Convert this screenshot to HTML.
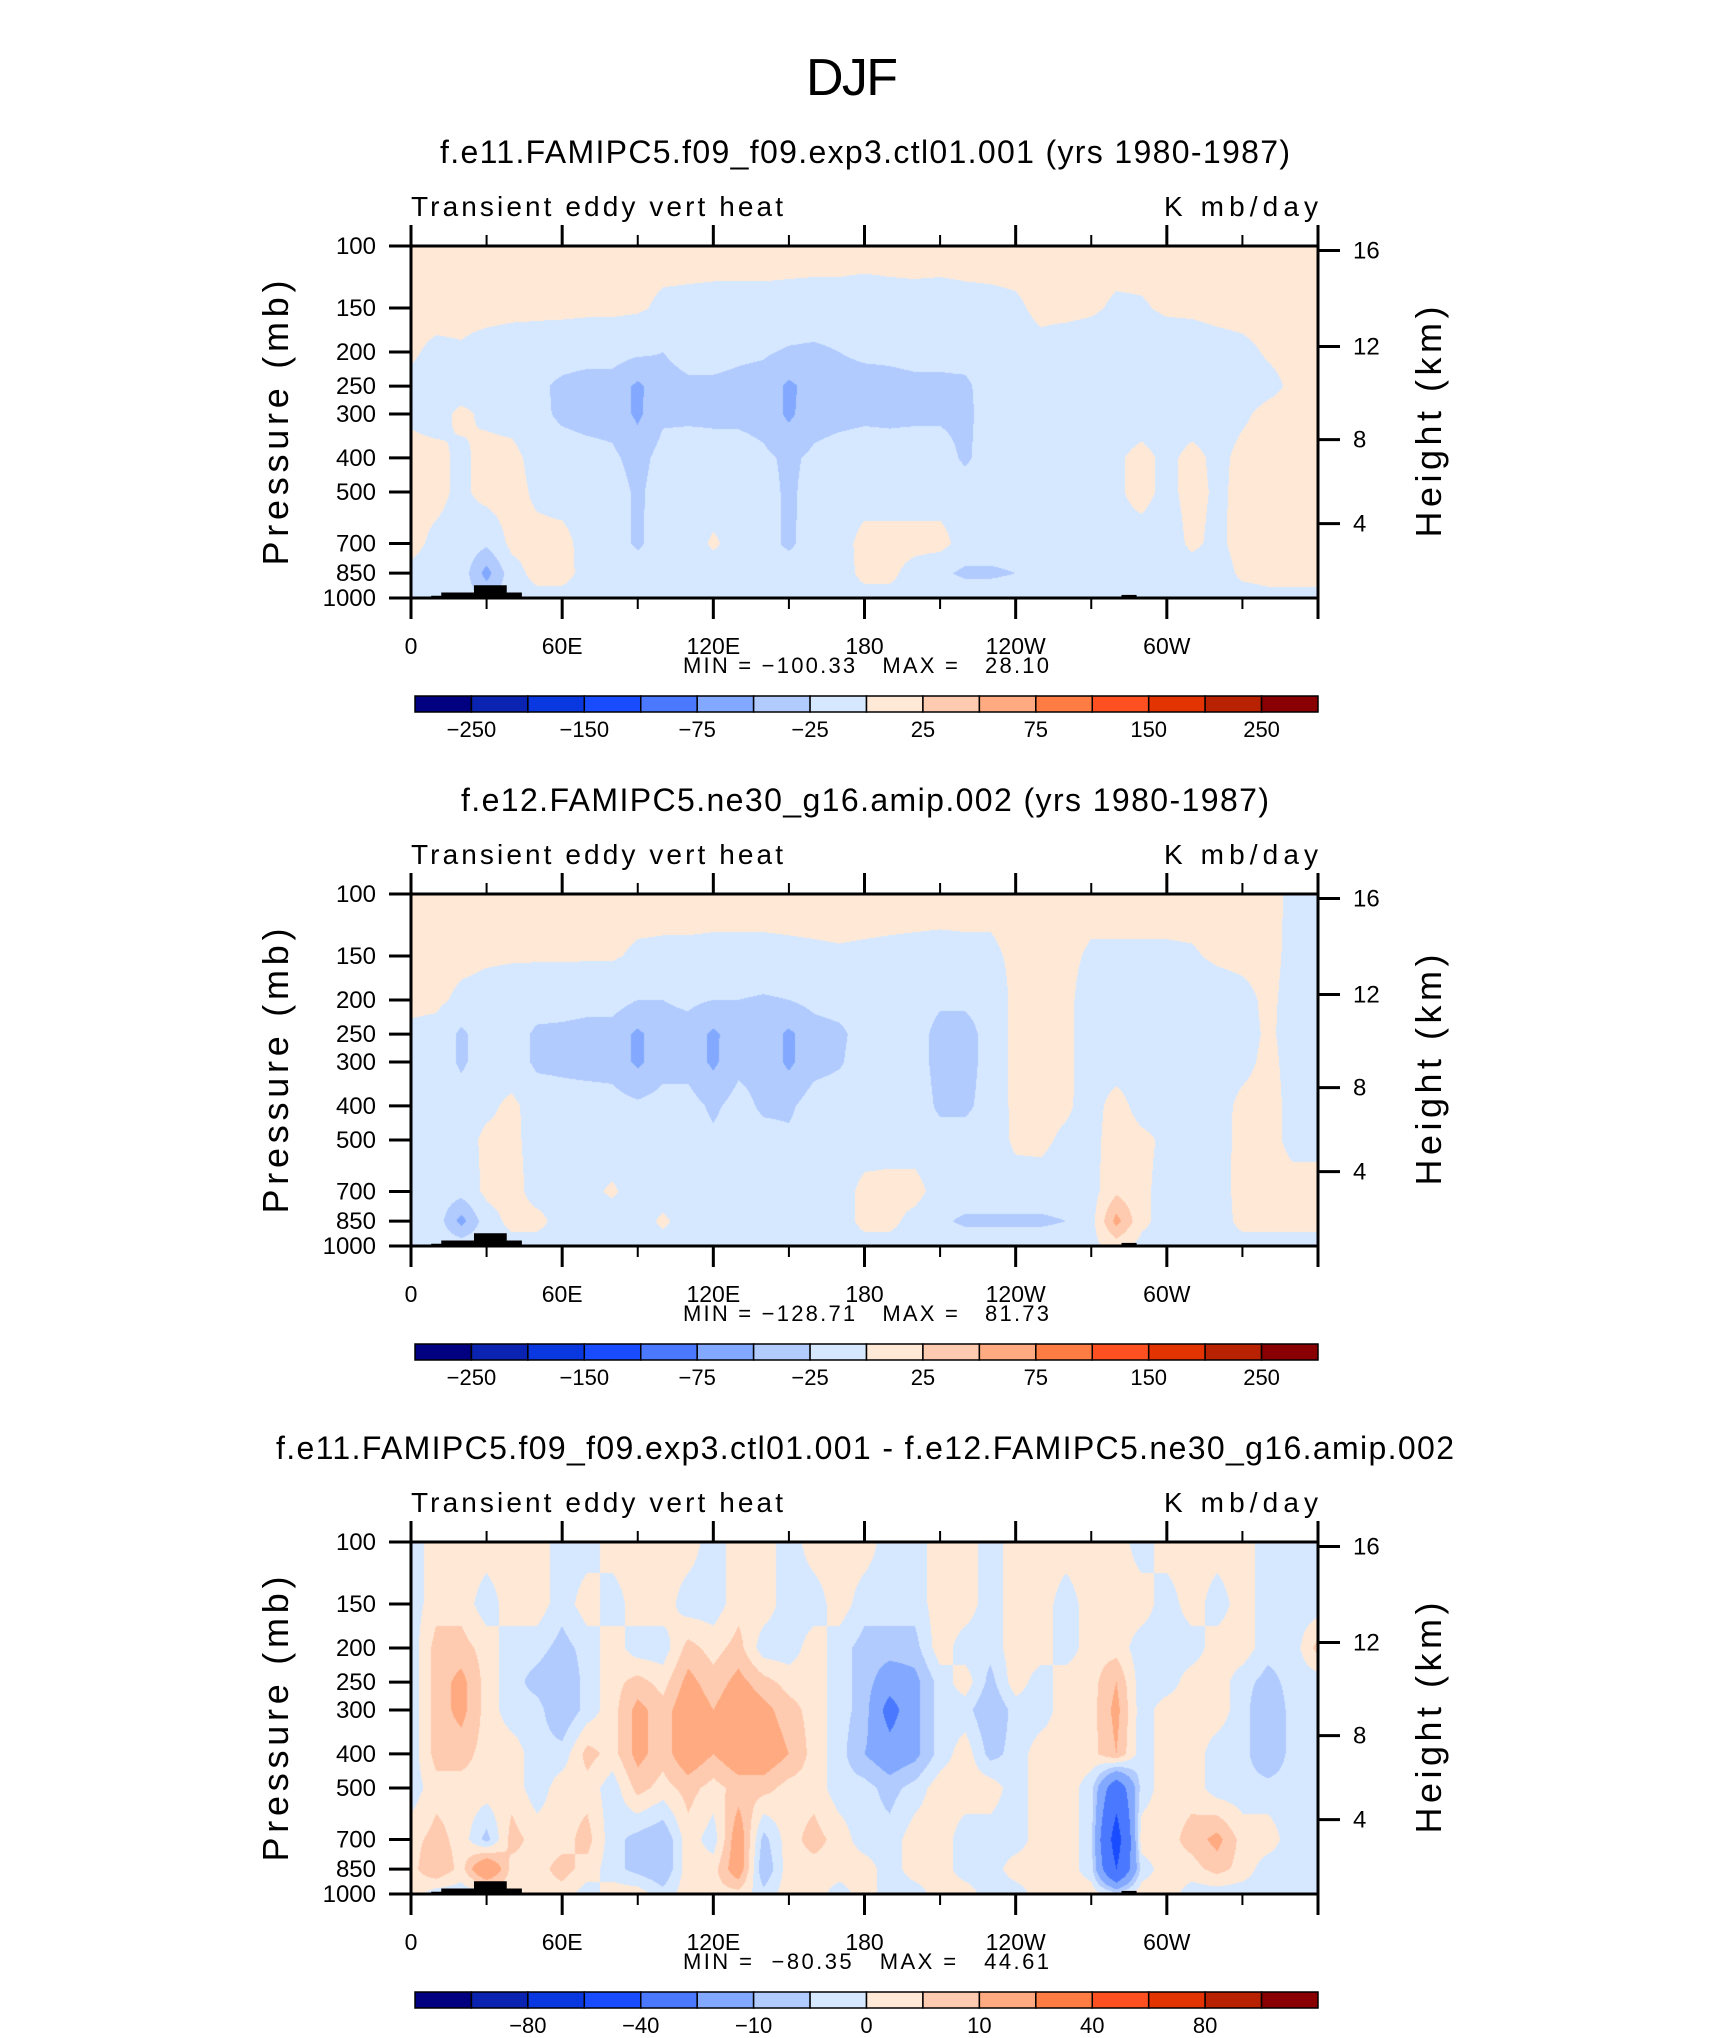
<!DOCTYPE html>
<html><head><meta charset="utf-8">
<style>
html,body{margin:0;padding:0;background:#fff;}
#root{position:relative;width:1710px;height:2038px;overflow:hidden;background:#fff;}
canvas{position:absolute;}
svg{position:absolute;left:0;top:0;}
text{font-family:"Liberation Sans",sans-serif;fill:#000;white-space:pre;}
</style></head>
<body>
<div id="root">
<canvas id="c0" width="907" height="352" style="left:411px;top:246px"></canvas>
<canvas id="c1" width="907" height="352" style="left:411px;top:894px"></canvas>
<canvas id="c2" width="907" height="352" style="left:411px;top:1542px"></canvas>
<svg id="ov" width="1710" height="2038">
<text x="852" y="95" font-size="52" text-anchor="middle" textLength="92">DJF</text>
</svg>
</div>
<script>
const lons = [0,10,20,30,40,50,60,70,80,90,100,110,120,130,140,150,160,170,180,190,200,210,220,230,240,250,260,270,280,290,300,310,320,330,340,350,360];
const plevs = [100,150,200,250,300,400,500,700,850,1000];
const levelsAbs = [-250,-200,-150,-100,-75,-50,-25,0,25,50,75,100,150,200,250];
const levelsDiff = [-100,-80,-60,-40,-20,-10,-5,0,5,10,20,40,60,80,100];
const cbarLabelsAbs = ["−250","","−150","","−75","","−25","","25","","75","","150","","250"];
const cbarLabelsDiff = ["","−80","","−40","","−10","","0","","10","","40","","80",""];
const colors = ["#000080","#0a23b0","#0a38e0","#1a4cff","#4a78ff","#82a9ff","#b1cbff","#d6e8ff","#ffe9d6","#ffcbb0","#ffaa80","#ff7c45","#ff5021","#e23300","#b82200","#880000"];
const titles = ["f.e11.FAMIPC5.f09_f09.exp3.ctl01.001 (yrs 1980-1987)","f.e12.FAMIPC5.ne30_g16.amip.002 (yrs 1980-1987)","f.e11.FAMIPC5.f09_f09.exp3.ctl01.001 - f.e12.FAMIPC5.ne30_g16.amip.002"];
const minmax = ["MIN = −100.33   MAX =   28.10","MIN = −128.71   MAX =   81.73","MIN =  −80.35   MAX =   44.61"];
const lonTicks = [0,60,120,180,240,300,360];
const lonTickLabels = ["0","60E","120E","180","120W","60W",""];
const pTicks = [100,150,200,250,300,400,500,700,850,1000];
const hTicks = [16,12,8,4];
const hTickP = [103,193,355,615];
const topoLon = [8,8,12,12,25,25,38,38,44,44];
const topoP = [1000,985,985,965,965,920,920,965,965,1000];

const field1 = [
[8,8,8,8,8,8,8,8,8,8,8,8,8,8,8,8,8,8,8,8,8,8,8,8,8,8,8,8,8,8,8,8,8,8,8,8,8],
[8,8,8,8,6,5,5,4,4,3,-4,-5,-6,-6,-6,-7,-8,-8,-10,-8,-7,-8,-6,-5,-3,4,5,3,-3,-2,3,4,6,7,8,8,8],
[3,-5,-3,-10,-12,-12,-14,-15,-15,-20,-25,-15,-15,-20,-22,-28,-30,-25,-20,-20,-18,-18,-15,-12,-8,-5,-10,-12,-12,-12,-12,-12,-8,-5,2,5,6],
[-5,-8,-12,-10,-10,-20,-30,-35,-35,-55,-35,-30,-30,-32,-35,-55,-40,-35,-35,-32,-30,-30,-30,-12,-12,-12,-12,-12,-12,-12,-12,-12,-12,-10,-5,3,6],
[-3,-8,5,-5,-10,-18,-30,-35,-35,-55,-30,-30,-30,-32,-35,-55,-35,-32,-30,-30,-30,-30,-32,-12,-10,-10,-10,-10,-10,-10,-10,-10,-8,-3,5,6,6],
[6,6,-5,8,8,-10,-12,-15,-20,-35,-15,-12,-15,-12,-20,-30,-20,-15,-12,-15,-12,-12,-30,-10,-10,-10,-10,-10,-3,6,-5,6,-5,5,8,8,8],
[6,6,-5,8,10,-5,-10,-10,-12,-30,-12,-10,-10,-10,-15,-30,-15,-12,-10,-10,-10,-10,-10,-10,-10,-10,-10,-10,-3,6,-5,6,-3,4,8,8,8],
[6,-5,-8,-20,6,8,8,-10,-10,-30,-10,-10,3,-8,-15,-30,-12,-10,8,8,8,8,-10,-10,-10,-10,-10,-10,-5,-8,-10,4,-5,8,8,8,8],
[-5,-8,-10,-60,-10,8,8,-8,-8,-8,-10,-10,-10,-10,-10,-10,-12,-10,6,6,-10,-20,-30,-30,-25,-10,-10,-5,-10,-10,-10,-10,-10,4,6,6,6],
[-8,-8,-10,-30,-10,-8,-8,-8,-8,-8,-8,-8,-8,-8,-8,-8,-8,-8,-8,-8,-8,-8,-8,-8,-8,-8,-8,-8,-8,-8,-8,-8,-8,-8,-5,-5,-5]
];
const field2 = [
[8,8,8,8,8,8,8,8,8,8,8,8,8,8,8,8,8,8,8,8,8,8,8,8,8,8,8,8,8,8,8,8,8,8,8,-5,-5],
[8,8,6,3,2,2,2,2,2,-3,-4,-4,-5,-5,-5,-4,-3,-2,-3,-4,-5,-6,-5,-5,5,6,5,-3,-3,-3,-3,-2,3,5,6,-5,-5],
[6,5,-5,-8,-10,-12,-12,-15,-15,-25,-25,-20,-25,-25,-28,-25,-18,-15,-15,-12,-12,-20,-20,-15,6,8,5,-10,-12,-12,-12,-12,-10,-6,4,-6,-6],
[-5,-8,-30,-10,-12,-30,-32,-35,-35,-55,-35,-35,-55,-35,-35,-55,-35,-30,-15,-12,-12,-35,-35,-15,6,8,5,-10,-15,-12,-12,-12,-12,-8,3,-6,-6],
[-5,-8,-30,-10,-12,-30,-32,-35,-35,-55,-35,-35,-55,-32,-35,-55,-35,-28,-12,-12,-12,-35,-35,-15,6,8,5,-10,-12,-12,-12,-12,-10,-6,5,-6,-6],
[-5,-8,-10,-5,5,-10,-12,-12,-15,-20,-15,-15,-30,-15,-30,-30,-12,-10,-10,-10,-10,-30,-30,-15,6,8,4,-10,10,-10,-10,-10,-8,5,8,-6,-6],
[-8,-8,-10,5,5,-8,-10,-10,-12,-15,-12,-12,-20,-12,-15,-20,-12,-10,-10,-10,-10,-15,-15,-12,4,5,-5,-10,15,6,-5,-10,-8,6,8,-6,-6],
[-8,-10,-15,5,8,-8,-8,-5,3,-10,-10,-15,-10,-10,-12,-25,-10,-10,6,8,8,-10,-10,-10,-10,-10,-10,-10,20,6,-10,-8,-10,8,8,8,8],
[-8,-10,-60,-10,6,6,-8,-8,-10,-10,4,-10,-10,-10,-10,-12,-10,-10,6,6,-8,-20,-30,-30,-30,-30,-25,-10,60,6,-10,-10,-10,6,6,6,6],
[-8,-8,-8,-8,-8,-8,-8,-8,-8,-8,-8,-8,-8,-8,-8,-8,-8,-8,-8,-8,-8,-8,-8,-8,-8,-8,-8,-8,10,-8,-8,-8,-8,-8,-8,-8,-8]
];
const field3 = [
[-3,3,3,3,3,3,-3,-3,3,3,3,3,-3,3,3,-3,3,3,3,-3,-3,3,3,-3,3,3,3,3,3,-3,3,3,3,3,-3,-3,-3],
[-3,3,3,-3,3,3,-3,3,-3,3,3,-3,-3,3,3,-3,-3,3,-3,-3,-3,3,3,-3,3,3,-3,3,3,3,-3,3,-3,3,-3,-3,-3],
[-3,7,7,3,-3,-3,-7,-3,3,-3,-3,7,3,7,-3,-3,3,-3,-7,-7,-7,3,-3,-3,3,3,-3,3,3,-3,-3,-3,3,3,-3,-3,7],
[-3,7,12,3,-3,-7,-10,-3,3,7,3,12,7,12,7,3,3,-3,-7,-15,-12,-3,3,-7,3,-3,3,3,10,-3,-3,3,3,-3,-7,-3,-3],
[-3,7,12,3,-3,-3,-10,-3,3,12,7,15,10,15,12,7,3,-3,-7,-25,-12,-3,-3,-10,-3,-3,3,3,12,-3,3,3,3,-3,-10,-3,-3],
[-3,7,7,3,3,-3,-3,7,3,12,7,15,10,15,15,10,3,-3,-10,-15,-12,-3,3,-7,-3,3,3,3,10,-3,3,3,-3,-3,-10,-3,-3],
[-3,3,3,3,3,-3,3,3,-3,7,3,7,3,7,7,3,3,-3,-3,-7,-3,3,3,3,-3,3,3,-3,-30,-3,3,3,-3,-3,-3,-3,-3],
[3,7,3,-7,7,3,3,7,-3,-7,-10,3,-3,15,-7,3,7,3,-3,-3,3,3,-3,-3,-3,3,3,-3,-50,3,3,7,12,3,3,-3,-3],
[3,10,3,20,3,3,7,3,-3,-7,-10,3,3,15,-10,3,3,3,3,-3,3,3,-3,-3,3,3,3,-3,-40,-3,3,3,7,3,-3,-3,-3],
[3,-3,-3,-3,3,3,3,-3,3,3,-3,3,3,3,-3,3,3,-3,3,-3,-3,3,3,-3,-3,3,3,3,-3,3,3,-3,-3,-3,-3,-3,-3]
];
const fields = [field1, field2, field3];
const panelLevels = [levelsAbs, levelsAbs, levelsDiff];
const panelCbar = [cbarLabelsAbs, cbarLabelsAbs, cbarLabelsDiff];
const tops = [246, 894, 1542];

const L = 411, W = 907, H = 352;
const LN10 = Math.log(10);
function xOf(lon){ return L + lon / 360 * W; }
function yOf(p, T){ return T + Math.log(p / 100) / LN10 * H; }

function hex(c){ return [parseInt(c.substr(1,2),16),parseInt(c.substr(3,2),16),parseInt(c.substr(5,2),16)]; }
const rgb = colors.map(hex);
const logP = plevs.map(p => Math.log(p));

function drawField(ci, f, lev){
  const cv = document.getElementById('c' + ci);
  const ctx = cv.getContext('2d');
  const img = ctx.createImageData(W, H);
  for (let py = 0; py < H; py++){
    const lp = Math.log(100) + (py + 0.5) / H * LN10;
    let k = 0;
    while (k < plevs.length - 2 && lp > logP[k+1]) k++;
    let t = (lp - logP[k]) / (logP[k+1] - logP[k]);
    t = Math.max(0, Math.min(1, t));
    for (let px = 0; px < W; px++){
      const lon = (px + 0.5) / W * 360;
      let i = Math.min(lons.length - 2, Math.floor(lon / 10));
      const s = (lon - lons[i]) / 10;
      const v = (1-t)*((1-s)*f[k][i] + s*f[k][i+1]) + t*((1-s)*f[k+1][i] + s*f[k+1][i+1]);
      let idx = 0;
      while (idx < lev.length && v >= lev[idx]) idx++;
      const c = rgb[idx];
      const o = (py * W + px) * 4;
      img.data[o] = c[0]; img.data[o+1] = c[1]; img.data[o+2] = c[2]; img.data[o+3] = 255;
    }
  }
  ctx.putImageData(img, 0, 0);
}

const NS = 'http://www.w3.org/2000/svg';
const ov = document.getElementById('ov');
function mk(tag, attrs, parent){
  const e = document.createElementNS(NS, tag);
  for (const k in attrs) e.setAttribute(k, attrs[k]);
  (parent || ov).appendChild(e);
  return e;
}
function txt(x, y, s, size, anchor, parent){
  const e = mk('text', {x: x, y: y, 'font-size': size, 'text-anchor': anchor || 'start'}, parent);
  e.textContent = s;
  return e;
}

for (let pi = 0; pi < 3; pi++){
  const T = tops[pi];
  drawField(pi, fields[pi], panelLevels[pi]);
  const g = mk('g', {});
  
  

  const tt = txt(865, T - 83, titles[pi], 32, 'middle', g);
  tt.setAttribute('textLength', pi === 2 ? 1178 : (pi === 0 ? 850 : 808));
  
  

  const lt = txt(L, T - 30, 'Transient eddy vert heat', 28, 'start', g);
  lt.setAttribute('textLength', 372);
  
  
  const ut = txt(L + W, T - 30, 'K mb/day', 28, 'end', g);
  ut.setAttribute('textLength', 154);
  
  

  let d = '';
  topoLon.forEach((lo, j) => { d += (j ? 'L' : 'M') + xOf(lo) + ' ' + yOf(topoP[j], T) + ' '; });
  const tp = mk('path', {d: d + 'Z', fill: '#000'}, g);
  
  
  const tp2 = mk('rect', {x: xOf(282), y: yOf(980, T), width: xOf(288)-xOf(282), height: yOf(1000,T)-yOf(980,T), fill:'#000'}, g);
  
  
  const tp3 = mk('rect', {x: xOf(282), y: yOf(992, T), width: xOf(305)-xOf(282), height: yOf(1000,T)-yOf(992,T), fill:'#000'}, g);
  
  
  [[96,99],[112,120],[124,127],[160,168]].forEach(r => {
    const b = mk('rect', {x: xOf(r[0]), y: yOf(992, T), width: xOf(r[1])-xOf(r[0]), height: yOf(1000,T)-yOf(992,T), fill:'#000'}, g);
    
    
  });

  const fr = mk('rect', {x: L, y: T, width: W, height: H, fill: 'none', stroke: '#000', 'stroke-width': 3}, g);
  
  

  for (let lo = 0; lo <= 360; lo += 30){
    const major = lo % 60 === 0;
    const len = major ? 21 : 11;
    const x = xOf(lo);
    mk('line', {x1: x, x2: x, y1: T, y2: T - len, stroke: '#000', 'stroke-width': major ? 3 : 2}, g);
    mk('line', {x1: x, x2: x, y1: T + H, y2: T + H + len, stroke: '#000', 'stroke-width': major ? 3 : 2}, g);
  }
  lonTicks.forEach((lo, j) => {
    const e = txt(xOf(lo), T + 408, lonTickLabels[j], 23, 'middle', g);
    
    
  });
  pTicks.forEach(p => {
    const y = yOf(p, T);
    mk('line', {x1: L - 22, x2: L, y1: y, y2: y, stroke: '#000', 'stroke-width': 3}, g);
    const e = txt(L - 35, y + 8, String(p), 24, 'end', g);
    
    
  });
  hTicks.forEach((h, j) => {
    const y = yOf(hTickP[j], T);
    mk('line', {x1: L + W, x2: L + W + 22, y1: y, y2: y, stroke: '#000', 'stroke-width': 3}, g);
    const e = txt(L + W + 35, y + 8, String(h), 24, 'start', g);
    
    
  });
  const yt = txt(0, 0, 'Pressure (mb)', 36, 'middle', g);
  yt.setAttribute('transform', 'translate(288,' + (T + 177) + ') rotate(-90)');
  yt.setAttribute('textLength', 285);
  
  
  const ht = txt(0, 0, 'Height (km)', 36, 'middle', g);
  ht.setAttribute('transform', 'translate(1441,' + (T + 176) + ') rotate(-90)');
  ht.setAttribute('textLength', 231);
  
  

  const mm = txt(866, T + 427, minmax[pi], 22, 'middle', g);
  mm.setAttribute('textLength', 366);
  
  

  const cbx = 415, cbw = 903, cby = T + 450, cbh = 16, bw = cbw / 16;
  colors.forEach((c, j) => {
    const r = mk('rect', {x: cbx + j*bw, y: cby, width: bw, height: cbh, fill: c, stroke: '#000', 'stroke-width': 1.5}, g);
    
    
  });
  panelCbar[pi].forEach((s, j) => {
    if (!s) return;
    const e = txt(cbx + (j+1)*bw, T + 491, s, 22, 'middle', g);
    
    
  });
}
</script>
</body></html>
